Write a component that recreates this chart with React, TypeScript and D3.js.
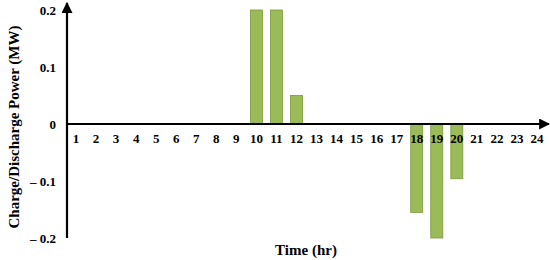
import React from 'react';
import * as d3 from 'd3';

// hours on the x axis
const hours = d3.range(1, 25).map(String);
// storage charge/discharge power per hour (MW)
const power = [0, 0, 0, 0, 0, 0, 0, 0, 0, 0.2, 0.2, 0.05, 0, 0, 0, 0, 0, -0.155, -0.2, -0.096, 0, 0, 0, 0];
const yTicks = [0.2, 0.1, 0, -0.1, -0.2];
const yTickLabels = ['0.2', '0.1', '0', '\u2013 0.1', '\u2013 0.2'];

const W = 550;
const H = 260;
const font = '"Times New Roman", "Liberation Serif", serif';

export default function App() {
  const x = d3.scaleBand().domain(hours).range([66, 547]).paddingInner(0.4).paddingOuter(0.2);
  const y = d3.scaleLinear().domain([-0.2, 0.2]).range([238, 10]);
  const y0 = y(0);

  return (
    <svg width={W} height={H} style={{ position: 'absolute', left: 0, top: 0 }}>
      <defs>
        <marker id="arr" viewBox="0 0 10 10" refX="9" refY="5" markerWidth="5" markerHeight="5" orient="auto">
          <path d="M0,0 L10,5 L0,10 z" fill="#000" />
        </marker>
      </defs>
      <rect width={W} height={H} fill="#fff" />

      {/* bars */}
      {power.map((v, i) =>
        v === 0 ? null : (
          <rect
            key={i}
            x={x(hours[i])}
            y={Math.min(y(v), y0)}
            width={x.bandwidth()}
            height={Math.abs(y(v) - y0)}
            fill="#9BBB59"
            stroke="#7A9A3A"
            strokeWidth={0.8}
          />
        )
      )}

      {/* axes */}
      <line x1={67} x2={67} y1={238} y2={3} stroke="#000" strokeWidth={2.2} markerEnd="url(#arr)" />
      <line x1={67} x2={549} y1={y0} y2={y0} stroke="#000" strokeWidth={2.2} markerEnd="url(#arr)" />

      {/* y tick labels */}
      {yTicks.map((t, i) => (
        <text key={t} x={56} y={y(t)} dy="0.35em" textAnchor="end" fontFamily={font} fontWeight="bold" fontSize={13}>
          {yTickLabels[i]}
        </text>
      ))}

      {/* x tick labels */}
      {hours.map((h) => (
        <text key={h} x={x(h)! + x.bandwidth() / 2} y={y0 + 19} textAnchor="middle" fontFamily={font} fontWeight="bold" fontSize={13}>
          {h}
        </text>
      ))}

      <text x={306} y={255} textAnchor="middle" fontFamily={font} fontWeight="bold" fontSize={15}>
        Time (hr)
      </text>
      <text
        transform={`translate(19,${127}) rotate(-90)`}
        textAnchor="middle"
        fontFamily={font}
        fontWeight="bold"
        fontSize={15}
      >
        Charge/Discharge Power (MW)
      </text>
    </svg>
  );
}
